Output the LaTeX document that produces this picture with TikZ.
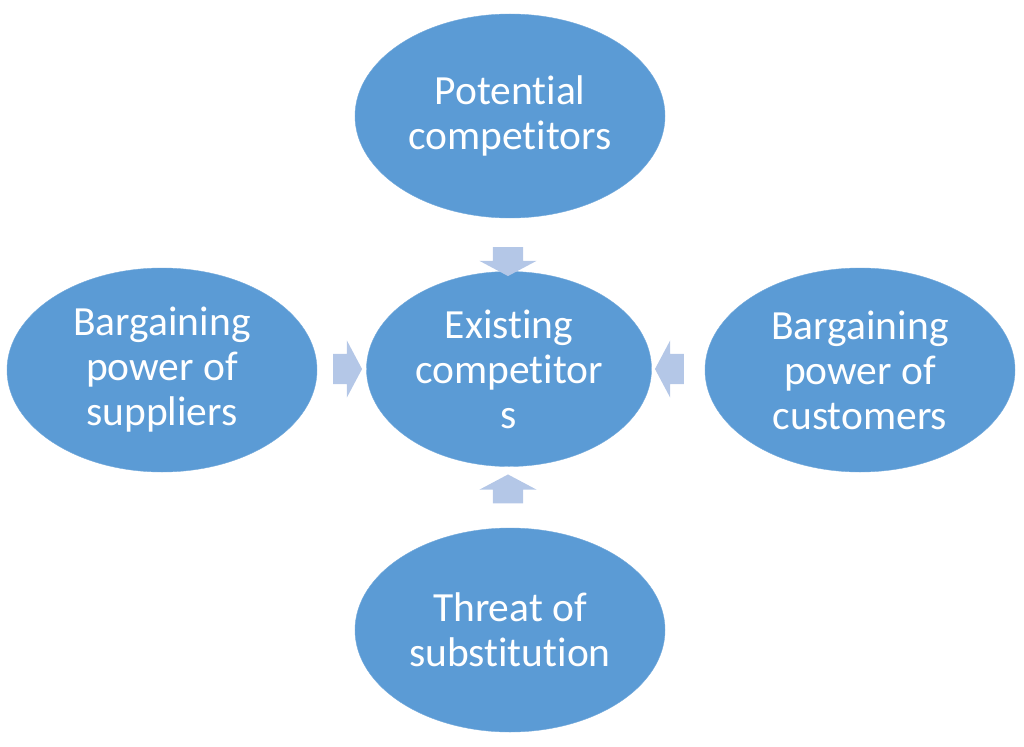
\documentclass[tikz,border=0pt]{standalone}
\usepackage{fontspec}
\setmainfont{Carlito}[Ligatures=NoCommon]
\usetikzlibrary{shapes.geometric,shapes.arrows}
\definecolor{forceblue}{RGB}{91,155,213}
\definecolor{pushblue}{RGB}{180,199,231}
\begin{document}
\begin{tikzpicture}[
    x=1pt, y=-1pt,
    force/.style={ellipse, fill=forceblue, draw=forceblue!85!white, thin, inner sep=0pt,
      minimum width=310pt, minimum height=204pt, align=center, text=white,
      font=\fontsize{41.5}{45}\selectfont},
    rival/.style={force, minimum width=285pt, minimum height=195pt},
    push/.style={single arrow, fill=pushblue, draw=none, inner xsep=0pt, inner ysep=15pt,
      minimum height=29pt, minimum width=0pt, single arrow head extend=13.5pt,
      single arrow tip angle=124}
  ]
  \useasboundingbox (0,0) rectangle (1024,746);

  % The five forces
  \node[force] (potential) at (510,116) {Potential\\competitors};
  \node[rival] (existing) at (509,369) {Existing\\competitor\\s};
  \node[force] (suppliers) at (162,370) {Bargaining\\power of\\suppliers};
  \node[force] (customers) at (860,370) {Bargaining\\power of\\customers};
  \node[force] (substitution) at (510,630) {Threat of\\substitution};

  % Block arrows pointing at the existing competitors
  \node[push, rotate=-90] (fromPotential) at (508,257.5) {};
  \node[push] (fromSuppliers) at (343.5,369) {};
  \node[push, rotate=180] (fromCustomers) at (673.5,369) {};
  \node[push, rotate=90] (fromSubstitution) at (508,493) {};

\end{tikzpicture}
\end{document}
